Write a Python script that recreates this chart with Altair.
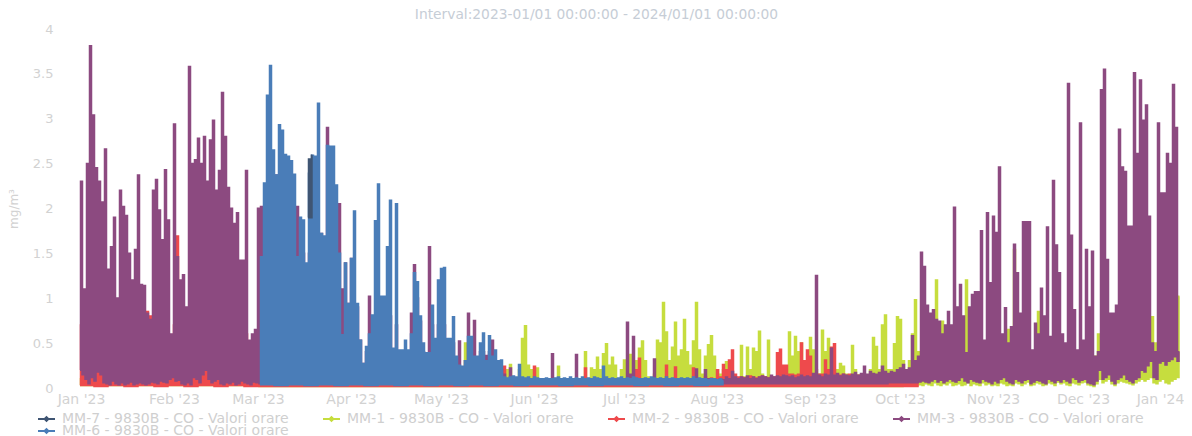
import altair as alt
import pandas as pd

SERIES = ["MM-7 - 9830B - CO - Valori orare", "MM-1 - 9830B - CO - Valori orare",
          "MM-2 - 9830B - CO - Valori orare", "MM-3 - 9830B - CO - Valori orare",
          "MM-6 - 9830B - CO - Valori orare"]
COLORS = ["#3f5573", "#c6dd3e", "#ee4a4c", "#8c4a80", "#4a7db8"]
TITLE = "Interval:2023-01/01 00:00:00 - 2024/01/01 00:00:00"

# daily upper values, ten per line, from day 0 (1 Jan 2023)
mm3_hi = [
 2.3,1.1,2.5,3.81,3.04,2.45,2.3,2.07,2.66,1.32,
 1.57,1.9,1.0,2.2,2.02,1.92,1.5,1.2,1.54,2.37,
 1.15,1.14,.83,.76,2.2,2.32,1.98,1.65,2.43,1.87,
 .6,2.94,1.46,1.2,1.26,.9,3.58,2.5,2.54,2.78,
 2.5,2.8,2.3,2.76,2.98,2.2,2.42,3.29,2.8,2.23,
 2.0,1.83,1.95,1.42,1.42,2.42,.53,.6,.65,2.0,
 2.02,1.5,1.5,1.5,1.5,2.37,1.5,1.5,1.5,1.5,
 1.5,1.5,2.02,1.6,1.5,1.3,1.5,1.5,1.5,1.5,
 1.72,1.4,2.9,2.3,2.2,2.0,2.05,1.1,1.39,.94,
 1.44,.9,.9,.53,.27,.4,1.02,.6,.8,.9,
 .9,.8,.9,.8,.4,.7,.4,.4,.4,.4,
 .83,1.37,1.0,.74,.4,.35,1.57,.7,.5,.7,
 .7,.7,.5,.5,.5,.3,.52,.2,.3,.83,
 .5,.75,.3,.4,.4,.36,.4,.53,.3,.25,
 .2,.15,.1,.22,.1,.1,.1,.09,.08,.08,
 .09,.1,.08,.08,.08,.08,.09,.38,.1,.08,
 .08,.09,.08,.08,.09,.37,.1,.08,.09,.08,
 .09,.08,.08,.09,.1,.08,.09,.08,.1,.09,
 .08,.09,.73,.15,.57,.1,.09,.09,.08,.08,
 .09,.32,.1,.09,.08,.08,.09,.1,.08,.09,
 .08,.1,.09,.08,.09,.21,.1,.09,.2,.1,
 .09,.1,.09,.1,.09,.12,.1,.18,.12,.1,
 .12,.11,.13,.1,.12,.1,.12,.13,.12,.11,
 .14,.12,.13,.12,.14,.13,.12,.13,.11,.12,
 .14,.12,.13,.12,.16,1.25,.14,.12,.15,.14,
 .44,.14,.16,.13,.15,.14,.13,.15,.17,.14,
 .16,.24,.15,.18,.16,.15,.17,.24,.18,.16,
 .18,.17,.2,.22,.26,.2,.22,.58,.3,.35,
 1.51,1.35,.92,.83,.87,.76,.74,.6,.7,.85,
 .7,2.01,.9,1.15,.8,.39,.9,1.04,1.07,1.07,
 1.75,.53,1.95,1.17,1.91,1.73,2.46,.6,.89,.5,
 .68,1.6,1.28,.83,1.85,1.85,1.85,.42,.72,.6,
 1.11,.8,1.79,.57,2.31,1.59,1.28,.6,.5,3.39,
 1.7,.87,.42,2.95,.53,1.54,.9,1.52,.35,.4,
 3.32,3.55,1.43,.83,.83,.92,2.88,2.46,2.41,1.8,
 1.8,3.51,2.61,3.43,2.98,3.15,1.91,.5,.4,2.95,
 2.17,2.17,2.61,2.5,3.38,2.9,.4]

# from day 60 (1 Mar) to day 214
mm6_start = 60
mm6_hi = [
 1.46,2.28,3.26,3.59,2.65,2.37,2.93,2.87,2.6,2.58,
 2.53,2.38,1.46,1.9,1.87,1.39,2.39,2.59,2.58,3.17,
 1.72,1.69,2.7,2.69,2.69,2.26,1.5,.59,1.39,.94,
 1.44,1.97,.94,.53,.27,.46,.6,.81,1.86,2.27,
 1.02,1.02,1.57,2.09,.44,2.05,.42,.42,.53,.42,
 .6,1.28,1.18,.8,.5,.39,.39,.92,.55,1.2,
 1.33,1.34,.55,.55,.79,.35,.25,.24,.3,.57,
 .57,.35,.35,.5,.61,.3,.58,.35,.42,.3,
 .31,.12,.11,.12,.13,.12,.26,.12,.11,.12,
 .1,.12,.11,.1,.1,.11,.1,.1,.11,.12,
 .1,.11,.1,.12,.1,.11,.1,.12,.1,.11,
 .1,.12,.11,.1,.24,.12,.1,.11,.1,.11,
 .12,.1,.11,.1,.12,.11,.1,.1,.11,.1,
 .12,.11,.1,.11,.1,.12,.1,.11,.1,.1,
 .11,.1,.11,.1,.12,.1,.11,.1,.1,.09,
 .1,.1,.09,.1,.08]

# to day 279
mm2_hi = [
 .7,.7,.8,.9,.8,.7,.8,.6,.7,.8,
 .7,.6,.6,.7,.8,.7,.6,.5,.6,.7,
 .6,.7,.85,.8,.7,.6,.7,.7,.5,.6,
 .5,.7,1.69,.8,.7,.7,.6,.7,.6,.7,
 .6,.7,.7,.6,.7,.7,.6,.7,.8,.7,
 .7,.8,.7,.7,.8,.6,.4,.4,.5,.6,
 .3,.3,.25,.3,.3,.25,.3,.25,.3,.25,
 .25,.3,.25,.3,.25,.3,.25,.3,.25,.3,
 .25,.3,.25,.3,.25,.3,.25,.3,.25,.3,
 .25,.3,.25,.25,.2,.25,.3,.25,.3,.25,
 .25,.3,.25,.3,.25,.3,.25,.3,.25,.3,
 .25,.3,.25,.3,.25,.3,.25,.3,.25,.25,
 .2,.25,.2,.2,.25,.2,.2,.15,.2,.25,
 .2,.2,.2,.2,.25,.2,.2,.2,.2,.2,
 .15,.24,.1,.12,.09,.08,.1,.09,.08,.08,
 .09,.24,.1,.09,.08,.08,.07,.08,.07,.08,
 .07,.08,.07,.08,.08,.07,.08,.07,.22,.08,
 .07,.08,.07,.08,.07,.08,.07,.08,.07,.08,
 .07,.08,.09,.08,.09,.2,.33,.1,.08,.09,
 .08,.09,.1,.09,.1,.25,.1,.09,.23,.1,
 .09,.1,.09,.1,.22,.1,.09,.1,.12,.1,
 .11,.1,.2,.12,.26,.2,.31,.42,.15,.12,
 .12,.11,.12,.13,.12,.11,.12,.13,.12,.11,
 .12,.12,.39,.43,.25,.25,.15,.15,.14,.15,
 .5,.3,.42,.35,.15,.14,.15,.15,.31,.2,
 .45,.49,.15,.14,.15,.14,.15,.14,.13,.14,
 .13,.14,.13,.12,.13,.12,.13,.12,.13,.12,
 .13,.12,.13,.12,.13,.12,.13,.12,.13,.12]

mm1_hi = [
 .1,.08,.09,.08,.1,.08,.09,.08,.09,.08,
 .08,.09,.1,.08,.09,.08,.09,.1,.08,.09,
 .08,.1,.09,.1,.12,.08,.09,.08,.09,.08,
 .08,.09,.08,.09,.1,.08,.09,.08,.1,.09,
 .08,.09,.1,.08,.12,.09,.08,.09,.08,.09,
 .08,.09,.08,.08,.09,.08,.09,.08,.09,.08,
 .06,.06,.06,.06,.06,.06,.06,.06,.06,.06,
 .06,.06,.06,.06,.06,.06,.06,.06,.06,.06,
 .06,.06,.06,.06,.06,.06,.06,.06,.06,.06,
 .06,.06,.06,.06,.06,.06,.06,.06,.06,.06,
 .06,.06,.06,.06,.06,.06,.06,.06,.06,.06,
 .06,.06,.06,.06,.06,.06,.06,.06,.06,.06,
 .06,.06,.06,.06,.06,.06,.06,.06,.5,.06,
 .06,.06,.06,.06,.06,.06,.06,.06,.06,.06,
 .07,.08,.2,.26,.09,.1,.2,.55,.69,.25,
 .2,.1,.22,.09,.08,.08,.08,.08,.09,.24,
 .1,.09,.08,.09,.08,.08,.09,.08,.4,.1,
 .22,.2,.34,.2,.38,.49,.25,.34,.25,.1,
 .2,.31,.3,.37,.3,.3,.44,.52,.3,.12,
 .1,.15,.53,.5,.95,.62,.3,.45,.73,.35,
 .42,.76,.4,.25,.52,.95,.42,.15,.35,.48,
 .58,.35,.2,.15,.2,.29,.1,.1,.12,.1,
 .47,.12,.45,.2,.44,.4,.63,.15,.12,.53,
 .12,.1,.1,.1,.1,.15,.62,.35,.57,.4,
 .5,.3,.3,.56,.42,.2,.15,.64,.4,.55,
 .3,.2,.2,.27,.24,.15,.12,.47,.2,.14,
 .12,.15,.14,.2,.56,.46,.2,.7,.81,.2,
 .2,.49,.79,.76,.3,.2,.3,.6,.98,.4,
 .35,.3,.35,.3,.35,1.2,.4,.74,.35,.3,
 .35,.3,.35,.3,.4,1.2,.35,.3,.35,.3,
 .35,.3,.35,.3,.3,.35,.3,.35,.3,.65,
 .3,1.54,.35,.3,.35,.3,.35,.3,.3,.85,
 .3,.35,.3,.35,.3,.35,.3,.35,.4,.35,
 .35,.3,.35,.3,.35,.3,.35,.3,.35,.6,
 .45,.4,.35,.5,.4,.45,.3,.4,.45,.5,
 .45,.5,.45,.4,.45,.4,.45,.79,.5,.4,
 .45,.5,.55,.6,.7,1.02,1.02]

mm7_start = 76
mm7_hi = [2.55, 2.59]
mm7_lo = [1.9, 1.9]

# lower values: daily for days 0-59
mm3_lo_jan = [
 .2,.15,.1,.05,.12,.08,.18,.15,.06,.05,
 .04,.08,.05,.04,.06,.04,.05,.07,.04,.05,
 .06,.05,.04,.05,.07,.06,.05,.08,.07,.06,
 .1,.12,.08,.09,.05,.04,.06,.04,.12,.1,
 .06,.15,.2,.1,.06,.08,.1,.05,.04,.06,
 .05,.07,.04,.05,.08,.06,.05,.04,.07,.06]
# lower values, one per 5 days, for days 60-279
mm3_lo_mid = [.05,.05,.05,.05,.05,.05,.05,.05,.05,.05,.05,
              .05,.05,.05,.05,.05,.05,.05,.05,.05,.05,.05,
              .05,.05,.05,.05,.05,.05,.05,.05,.05,.05,.05,
              .05,.05,.05,.05,.05,.05,.05,.05,.05,.06,.06]
# lower values: daily for days 280-366
mm3_lo_late = [
 .07,.08,.07,.06,.08,.1,.07,.09,.06,.08,
 .1,.08,.07,.09,.12,.08,.06,.1,.08,.07,
 .06,.1,.08,.07,.05,.08,.06,.1,.12,.08,
 .06,.05,.1,.08,.06,.09,.1,.05,.07,.09,
 .08,.06,.05,.1,.08,.06,.09,.07,.1,.08,
 .06,.12,.1,.07,.09,.1,.06,.05,.04,.08,
 .2,.1,.12,.15,.08,.05,.1,.12,.15,.1,
 .08,.06,.1,.12,.2,.18,.25,.3,.12,.1,
 .28,.3,.26,.3,.32,.35,.3]
mm6_lo = [.04,.03,.04,.03,.04,.03,.04,.03,.04,.03,.04,.03,.04,.03,.04,.03,
          .04,.03,.04,.04,.03,.04,.03,.04,.04,.03,.04,.03,.04,.03,.04,.04]
mm2_lo = [.03,.02,.03,.02,.03,.02,.03,.02,.03,.02,.03,.02,
          .02,.02,.02,.02,.02,.02,.02,.02,.02,.02,.02,.02,.02,.02,.02,.02,
          .02,.02,.02,.02,.02,.02,.02,.02,.02,.02,.02,.02,.02,.02,.02,.02,
          .02,.02,.02,.02,.02,.02,.02,.02,.02,.02,.02,.02]
mm1_lo_early = [.03,.03,.03,.03,.03,.03,.03,.03,.03,.03,.03,.03,
          .02,.02,.02,.02,.02,.02,.02,.02,.02,.02,.02,.02,.02,.02,.02,.02,
          .02,.02,.02,.02,.02,.02,.02,.02,.02,.02,.02,.02,.02,.02,.02,.02,
          .02,.02,.02,.02,.02,.02,.02,.02,.02,.02,.02,.03]
mm1_lo_late = [
 .04,.03,.05,.04,.03,.06,.04,.03,.05,.04,
 .06,.03,.04,.05,.03,.04,.06,.03,.05,.04,
 .03,.06,.04,.05,.03,.04,.03,.06,.05,.03,
 .04,.03,.06,.05,.03,.05,.07,.03,.04,.06,
 .05,.03,.04,.06,.05,.03,.07,.05,.06,.04,
 .03,.06,.05,.04,.06,.07,.04,.03,.02,.05,
 .1,.06,.08,.1,.05,.03,.06,.08,.07,.06,
 .05,.04,.06,.08,.1,.08,.1,.12,.06,.05,
 .08,.1,.06,.05,.08,.1,.12]


def frame(name, hi, lo, start=0, lo_step=5):
    rows = []
    t0 = pd.Timestamp("2023-01-01")
    for i, h in enumerate(hi):
        d = start + i
        low = lo[i // lo_step]
        rows.append({"t": (t0 + pd.Timedelta(hours=24 * d)).strftime("%Y-%m-%dT%H:%M:%SZ"), "v": low, "s": name})
        rows.append({"t": (t0 + pd.Timedelta(hours=24 * d + 12)).strftime("%Y-%m-%dT%H:%M:%SZ"), "v": h, "s": name})
    return pd.DataFrame(rows)


frames = [
    pd.concat([frame(SERIES[1], mm1_hi[:280], mm1_lo_early),
               frame(SERIES[1], mm1_hi[280:], mm1_lo_late, start=280, lo_step=1)]),
    frame(SERIES[2], mm2_hi, mm2_lo),
    pd.concat([frame(SERIES[3], mm3_hi[:60], mm3_lo_jan, lo_step=1),
               frame(SERIES[3], mm3_hi[60:280], mm3_lo_mid, start=60),
               frame(SERIES[3], mm3_hi[280:], mm3_lo_late, start=280, lo_step=1)]),
    frame(SERIES[4], mm6_hi, mm6_lo, start=mm6_start),
    frame(SERIES[0], mm7_hi, mm7_lo, start=mm7_start, lo_step=1),
]

x = alt.X("t:T", title=None,
          scale=alt.Scale(domain=["2023-01-01T00:00:00Z", "2024-01-03T00:00:00Z"], nice=False),
          axis=alt.Axis(format="%b '%y", tickCount={"interval": "month", "step": 1},
                        domain=False, ticks=False, grid=False, labelOverlap=False, labelFlush=False,
                        labelFont="DejaVu Sans", labelFontSize=14, labelColor="#d2d2d2",
                        labelPadding=4,
                        labelOffset={"condition": {"test": "datum.value > datetime(2023,11,20)", "value": -15}, "value": 1}))
y = alt.Y("v:Q", title="mg/m³",
          scale=alt.Scale(domain=[0, 4], nice=False),
          axis=alt.Axis(values=[0, .5, 1, 1.5, 2, 2.5, 3, 3.5, 4], format=".1~f",
                        domain=False, ticks=False, grid=False,
                        labelFont="DejaVu Sans", labelFontSize=13, labelColor="#d2d2d2",
                        labelPadding=27,
                        titleFont="DejaVu Sans", titleFontSize=12, titleFontWeight="normal",
                        titleColor="#d2d2d2", titleX=-60))
color = alt.Color("s:N", title=None,
                  scale=alt.Scale(domain=SERIES, range=COLORS),
                  legend=alt.Legend(orient="none", legendX=-43, legendY=385, columns=4, direction="horizontal",
                                    symbolType="M-1,0L1,0M-.22,0L0,-.22L.22,0L0,.22Z",
                                    symbolSize=289, symbolStrokeWidth=2, symbolOffset=0,
                                    labelFont="DejaVu Sans", labelFontSize=14, labelColor="#cfcfcf",
                                    labelLimit=300, labelOffset=6, clipHeight=10,
                                    rowPadding=-3, columnPadding=33, padding=0))

layers = [alt.Chart(f).mark_line(interpolate="step", strokeWidth=2, strokeCap="butt", strokeJoin="miter")
          .encode(x=x, y=y, color=color) for f in frames]

chart = alt.layer(*layers).properties(
    width=1101, height=359,
    title=alt.TitleParams(TITLE, font="DejaVu Sans", fontSize=13.8, fontWeight="normal",
                          color="#c6cdd6", anchor="middle", dx=-34, offset=1),
    autosize=alt.AutoSizeParams(type="none"),
    padding={"left": 72, "top": 21, "right": 3, "bottom": 48},
).configure_view(stroke=None)

chart.save("out.html", embed_options={"renderer": "svg", "actions": False})
